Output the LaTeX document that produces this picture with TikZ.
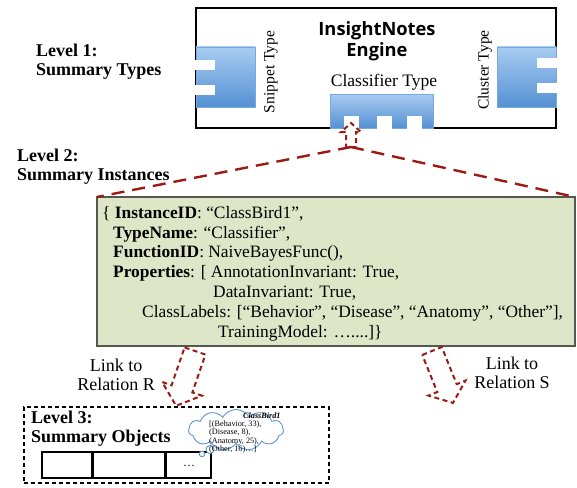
\documentclass[tikz,border=0pt]{standalone}
\usepackage{fontspec}
\setmainfont{Liberation Serif}
\newfontfamily\enginefont{Open Sans}
\usetikzlibrary{shapes.symbols}

\definecolor{linkred}{RGB}{155,27,20}
\definecolor{comptop}{RGB}{168,204,242}
\definecolor{compbottom}{RGB}{84,144,210}
\definecolor{compedge}{RGB}{120,168,222}
\definecolor{instfill}{RGB}{221,231,200}
\definecolor{instedge}{RGB}{85,88,78}
\definecolor{cloudblue}{RGB}{90,150,215}

\tikzset{
  comp/.style={top color=comptop, bottom color=compbottom, draw=compedge, line width=0.6pt},
  notch/.style={fill=white},
  levellabel/.style={anchor=north west, align=left, inner sep=0pt,
    font=\fontsize{18}{19}\selectfont\bfseries},
  guide/.style={draw=linkred, line width=2.4pt, dash pattern=on 13pt off 8pt},
  hollow/.style={draw=linkred, line width=2pt, dash pattern=on 5pt off 3.5pt, line join=miter},
  linklabel/.style={align=center, inner sep=0pt, font=\fontsize{18}{19}\selectfont},
}

% hollow block arrow: start x, start y, rotation, length, half shaft, half head, head length
\newcommand{\hollowarrow}[7]{%
  \begin{scope}[shift={(#1,#2)}, rotate=#3]
    \draw[hollow] (-#5,0) -- (#5,0) -- (#5,#4-#7) -- (#6,#4-#7) -- (0,#4)
      -- (-#6,#4-#7) -- (-#5,#4-#7) -- cycle;
  \end{scope}}

\begin{document}
\begin{tikzpicture}[x=1pt,y=-1pt]
\useasboundingbox (0,0) rectangle (577,487);

% ---------- Level 1: the engine with its summary types ----------
\node[draw, line width=1.3pt, minimum width=360pt, minimum height=120pt,
      inner sep=0pt, outer sep=0pt] (engine) at (376,68) {};
\node[align=center, inner sep=0pt, font=\enginefont\bfseries\fontsize{18.3}{21.5}\selectfont]
  (enginetitle) at (377,41) {InsightNotes\\Engine};

% snippet type component (notches on the left)
\path[comp] (196,47) rectangle (255,107);
\fill[notch] (193,60) rectangle (215,70);
\fill[notch] (193,85) rectangle (215,95);
\node[rotate=90, inner sep=0pt, font=\fontsize{15.5}{18}\selectfont] (snippet) at (271,72) {Snippet Type};

% cluster type component (notches on the right)
\path[comp] (497,47) rectangle (556,107);
\fill[notch] (537,58) rectangle (559,68);
\fill[notch] (537,83) rectangle (559,93);
\node[rotate=90, inner sep=0pt, font=\fontsize{15.5}{18}\selectfont] (cluster) at (485,70) {Cluster Type};

% classifier type component (notches at the bottom)
\path[comp] (330,94) rectangle (433,128);
\fill[notch] (344,116) rectangle (359,130);
\fill[notch] (377,116) rectangle (392,130);
\fill[notch] (407,116) rectangle (422,130);
\node[inner sep=0pt, font=\fontsize{17.5}{20}\selectfont] (classifier) at (384,82) {Classifier Type};

\node[levellabel] (lvone) at (36,44) {Level 1:\\Summary Types};

% ---------- Level 2: the summary instance ----------
\node[levellabel] (lvtwo) at (17,149) {Level 2:\\Summary Instances};

\node[draw=instedge, fill=instfill, line width=1.5pt, minimum width=478pt,
      minimum height=149pt, inner sep=0pt, outer sep=0pt] (inst) at (336,271.5) {};
\node[anchor=north west, align=left, inner sep=0pt, font=\fontsize{17.4}{19.8}\selectfont]
  (insttext) at (102,206) {%
\{ \textbf{InstanceID}: “ClassBird1”,\\
\hspace*{11pt}\textbf{TypeName}: “Classifier”,\\
\hspace*{11pt}\textbf{FunctionID}: NaiveBayesFunc(),\\
\hspace*{11pt}\textbf{Properties}: [ AnnotationInvariant: True,\\
\hspace*{111pt}DataInvariant: True,\\
\hspace*{40pt}ClassLabels: [“Behavior”, “Disease”, “Anatomy”, “Other”],\\
\hspace*{116pt}TrainingModel: …....]\}};

% zoom-out guides from the classifier type down to the instance
\coordinate (upbase) at (351,147);
\draw[guide] (upbase) -- (inst.north west);
\draw[guide] (upbase) -- (inst.north east);
\hollowarrow{351}{147}{180}{24}{5}{10}{9}

% ---------- links to relations ----------
\hollowarrow{195}{351}{-19}{58}{11}{21}{18}
\hollowarrow{432}{351}{22}{56}{10.5}{20}{16}
\node[linklabel] (linkR) at (116,374.5) {Link to\\Relation R};
\node[linklabel] (linkS) at (512,373) {Link to\\Relation S};

% ---------- Level 3: summary objects ----------
\node[draw, dash pattern=on 4pt off 3pt, line width=1.2pt, minimum width=305pt,
      minimum height=76pt, inner sep=0pt, outer sep=0pt] (lvthreebox) at (176.5,445) {};
\node[levellabel] (lvthree) at (31,411) {Level 3:\\Summary Objects};

\node[draw, line width=1.2pt, minimum width=169pt, minimum height=26pt,
      inner sep=0pt, outer sep=0pt] (cells) at (126.5,465) {};
\draw[line width=3pt] (92,452) -- (92,478);
\draw[line width=3pt] (165,452) -- (165,478);
\node[inner sep=0pt, font=\fontsize{12}{14}\selectfont] (more) at (189,466) {…};

% thought cloud with the stored object
\node[cloud, cloud puffs=11, cloud puff arc=120, cloud ignores aspect, draw=cloudblue,
      line width=0.9pt, fill=white, minimum width=95pt, minimum height=41pt,
      inner sep=0pt] (bubble) at (236,430) {};
\node[circle, draw=cloudblue, line width=0.9pt, fill=white, minimum size=8pt,
      inner sep=0pt] (puffa) at (210,449.5) {};
\node[circle, draw=cloudblue, line width=0.9pt, fill=white, minimum size=5.5pt,
      inner sep=0pt] (puffb) at (202,454) {};
\node[anchor=north west, align=left, inner sep=0pt, font=\fontsize{8.2}{7}\selectfont]
  (bubbletext) at (209,413) {%
\hspace*{34pt}\textbf{\textit{ClassBird1}}\\[0.6pt]
{}[(Behavior, 33),\\
(Disease, 8),\\
(Anatomy, 25),\\
(Other, 16)…]};

\end{tikzpicture}
\end{document}
